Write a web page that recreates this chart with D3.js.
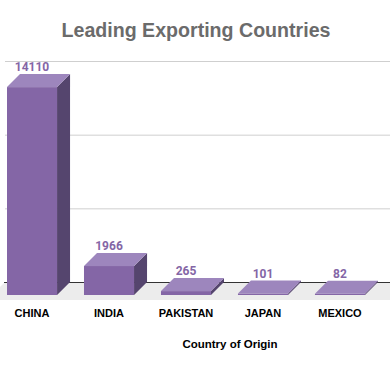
<!DOCTYPE html>
<html>
<head>
<meta charset="utf-8">
<script src="https://cdn.jsdelivr.net/npm/d3@7"></script>
<style>
  body { margin: 0; background: #fff; }
  svg { display: block; }
</style>
</head>
<body>
<svg id="chart" width="390" height="371"></svg>
<script>
// data
var countries = ['CHINA', 'INDIA', 'PAKISTAN', 'JAPAN', 'MEXICO'];
var exportsVal = [14110, 1966, 265, 101, 82];
var gridTicks = [5000, 10000, 15000];

var svg = d3.select('#chart');
var depth = 13;

var x = d3.scaleBand().domain(countries).range([7, 365])
    .paddingInner(0.35).paddingOuter(0);
var y = d3.scaleLinear().domain([0, 15000]).range([282, 61]);

// title
svg.append('text')
    .attr('x', 196).attr('y', 37)
    .attr('text-anchor', 'middle')
    .style('font-family', 'Liberation Sans, Arial, sans-serif')
    .style('font-weight', 'bold')
    .style('font-size', '19.6px')
    .style('fill', '#6b6b6b')
    .text('Leading Exporting Countries');

// gridlines
svg.selectAll('.grid')
    .data(gridTicks)
    .enter()
    .append('line')
    .attr('class', 'grid')
    .attr('x1', 5).attr('x2', 390)
    .attr('y1', function (d) { return y(d) + 0.5; })
    .attr('y2', function (d) { return y(d) + 0.5; })
    .style('stroke', '#cfcfcf')
    .style('stroke-width', 1);

// floor
var y0 = y(0);
svg.append('path')
    .attr('d', 'M5,' + y0 + 'L390,' + y0 + 'L390,' + (y0 + 18) + 'L-8,' + (y0 + 18) + 'L-8,' + (y0 + depth) + 'Z')
    .style('fill', '#ececec');
svg.append('line')
    .attr('x1', 4).attr('x2', 390)
    .attr('y1', y0 + 0.5).attr('y2', y0 + 0.5)
    .style('stroke', '#333')
    .style('stroke-width', 1);

// bars
var bw = x.bandwidth();
var bars = svg.selectAll('.bar')
    .data(countries)
    .enter()
    .append('g')
    .attr('class', 'bar');

function fx(d) { return x(d); }
function topY(d, i) { return y(exportsVal[i]); }

// side
bars.append('path')
    .attr('d', function (d, i) {
        var l = fx(d) + bw, t = topY(d, i);
        return 'M' + l + ',' + (t + depth) + 'L' + (l + depth) + ',' + t +
            'L' + (l + depth) + ',' + y0 + 'L' + l + ',' + (y0 + depth) + 'Z';
    })
    .style('fill', '#55456e');

// front
bars.append('rect')
    .attr('x', fx)
    .attr('y', function (d, i) { return topY(d, i) + depth; })
    .attr('width', bw)
    .attr('height', function (d, i) { return y0 - topY(d, i); })
    .style('fill', '#8466a6');

// top face
bars.append('path')
    .attr('d', function (d, i) {
        var l = fx(d), t = topY(d, i);
        return 'M' + l + ',' + (t + depth) + 'L' + (l + depth) + ',' + t +
            'L' + (l + bw + depth) + ',' + t + 'L' + (l + bw) + ',' + (t + depth) + 'Z';
    })
    .style('fill', '#9d86bd');

// value labels
bars.append('text')
    .attr('x', function (d) { return fx(d) + bw / 2; })
    .attr('y', function (d, i) { return topY(d, i) - 3; })
    .attr('text-anchor', 'middle')
    .style('font-family', 'Roboto, sans-serif')
    .style('font-weight', 'bold')
    .style('font-size', '12px')
    .style('fill', '#8466a6')
    .text(function (d, i) { return exportsVal[i]; });

// category labels
svg.selectAll('.cat')
    .data(countries)
    .enter()
    .append('text')
    .attr('class', 'cat')
    .attr('x', function (d) { return fx(d) + bw / 2; })
    .attr('y', 317)
    .attr('text-anchor', 'middle')
    .style('font-family', 'Liberation Sans, Arial, sans-serif')
    .style('font-weight', 'bold')
    .style('font-size', '11px')
    .style('fill', '#000')
    .text(function (d) { return d; });

// axis title
svg.append('text')
    .attr('x', 230).attr('y', 348)
    .attr('text-anchor', 'middle')
    .style('font-family', 'Liberation Sans, Arial, sans-serif')
    .style('font-weight', 'bold')
    .style('font-size', '11.5px')
    .style('fill', '#000')
    .text('Country of Origin');
</script>
</body>
</html>
